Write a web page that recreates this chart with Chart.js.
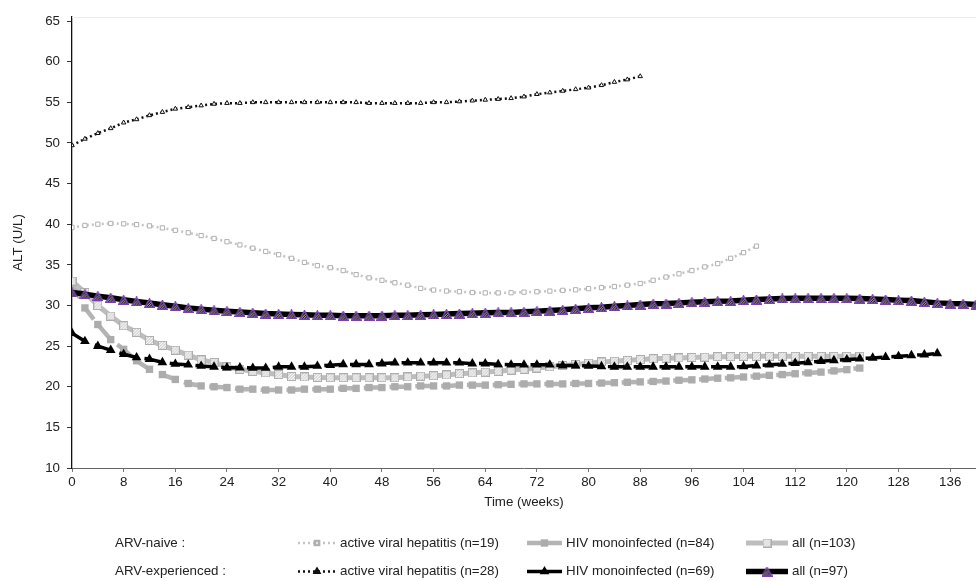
<!DOCTYPE html>
<html>
<head>
<meta charset="utf-8">
<script src="https://cdn.jsdelivr.net/npm/chart.js@4/dist/chart.umd.min.js"></script>
<style>
  html, body { margin: 0; padding: 0; background: #fff; }
  #wrap { width: 976px; height: 581px; }
</style>
</head>
<body>
<div id="wrap"><canvas id="c" width="976" height="581"></canvas></div>
<script>
// Visit weeks (every 2 weeks)
const WEEKS = [0, 2, 4, 6, 8, 10, 12, 14, 16, 18, 20, 22, 24, 26, 28, 30, 32, 34, 36, 38,
  40, 42, 44, 46, 48, 50, 52, 54, 56, 58, 60, 62, 64, 66, 68, 70, 72, 74, 76, 78,
  80, 82, 84, 86, 88, 90, 92, 94, 96, 98, 100, 102, 104, 106, 108, 110, 112, 114, 116, 118,
  120, 122, 124, 126, 128, 130, 132, 134, 136, 138, 140];

// Mean ALT (U/L), ARV-naive patients
const naiveHepatitis = [39.6, 39.85, 40.0, 40.1, 40.05, 39.95, 39.8, 39.55, 39.25, 38.95,
  38.6, 38.25, 37.85, 37.45, 37.05, 36.65, 36.25, 35.8, 35.3, 34.9,
  34.65, 34.3, 33.8, 33.4, 33.1, 32.8, 32.5, 32.1, 31.9, 31.78,
  31.7, 31.6, 31.55, 31.55, 31.57, 31.64, 31.69, 31.77, 31.86, 31.93,
  32.07, 32.2, 32.33, 32.5, 32.7, 33.1, 33.5, 33.9, 34.3, 34.75,
  35.15, 35.8, 36.5, 37.3];
const naiveMono = [32.8, 29.7, 27.66, 25.8, 24.6, 23.2, 22.15, 21.5, 20.9, 20.4,
  20.1, 20.0, 19.9, 19.7, 19.7, 19.6, 19.6, 19.6, 19.7, 19.7,
  19.7, 19.8, 19.8, 19.9, 19.9, 20.0, 20.0, 20.1, 20.1, 20.1,
  20.2, 20.2, 20.2, 20.25, 20.3, 20.35, 20.35, 20.35, 20.35, 20.4,
  20.4, 20.45, 20.5, 20.55, 20.6, 20.65, 20.7, 20.8, 20.85, 20.95,
  21.05, 21.1, 21.2, 21.3, 21.4, 21.5, 21.6, 21.7, 21.8, 21.95,
  22.1, 22.3];
const naiveAll = [33.0, 31.6, 30.0, 28.7, 27.5, 26.7, 25.7, 25.1, 24.5, 23.9,
  23.3, 23.0, 22.45, 22.15, 21.9, 21.7, 21.5, 21.25, 21.2, 21.15,
  21.1, 21.1, 21.1, 21.1, 21.1, 21.1, 21.2, 21.3, 21.35, 21.45,
  21.6, 21.7, 21.8, 21.9, 22.05, 22.15, 22.3, 22.45, 22.6, 22.75,
  22.9, 23.05, 23.15, 23.25, 23.35, 23.45, 23.5, 23.55, 23.6, 23.65,
  23.7, 23.7, 23.75, 23.75, 23.75, 23.75, 23.75, 23.75, 23.75, 23.75,
  23.75, 23.75];

// Mean ALT (U/L), ARV-experienced patients
const expHepatitis = [49.7, 50.5, 51.2, 51.8, 52.5, 52.9, 53.4, 53.8, 54.2, 54.4,
  54.6, 54.8, 54.9, 54.9, 55.0, 55.0, 55.0, 55.0, 55.0, 55.0,
  55.0, 55.0, 55.0, 54.9, 54.9, 54.9, 54.9, 54.9, 55.0, 55.0,
  55.1, 55.2, 55.3, 55.4, 55.5, 55.7, 56.0, 56.2, 56.4, 56.6,
  56.8, 57.1, 57.5, 57.8, 58.2];
const expMono = [26.6, 25.6, 25.0, 24.5, 24.0, 23.6, 23.4, 23.0, 22.8, 22.7,
  22.55, 22.45, 22.35, 22.35, 22.3, 22.3, 22.45, 22.45, 22.45, 22.55,
  22.65, 22.75, 22.75, 22.75, 22.85, 22.95, 22.95, 22.95, 22.95, 22.95,
  22.95, 22.85, 22.85, 22.75, 22.7, 22.7, 22.7, 22.7, 22.6, 22.6,
  22.55, 22.5, 22.45, 22.45, 22.45, 22.45, 22.45, 22.45, 22.45, 22.45,
  22.45, 22.45, 22.5, 22.6, 22.7, 22.8, 22.9, 23.0, 23.15, 23.25,
  23.35, 23.45, 23.55, 23.65, 23.75, 23.85, 23.95, 24.1];
const expAll = [31.6, 31.4, 31.15, 30.95, 30.7, 30.5, 30.3, 30.1, 29.9, 29.7,
  29.55, 29.4, 29.3, 29.2, 29.1, 29.0, 28.95, 28.9, 28.85, 28.8,
  28.8, 28.75, 28.75, 28.75, 28.75, 28.8, 28.8, 28.85, 28.9, 28.95,
  29.0, 29.05, 29.1, 29.15, 29.15, 29.22, 29.3, 29.38, 29.46, 29.59,
  29.71, 29.79, 29.91, 30.0, 30.12, 30.2, 30.24, 30.32, 30.4, 30.45,
  30.53, 30.55, 30.65, 30.73, 30.81, 30.86, 30.88, 30.9, 30.9, 30.9,
  30.88, 30.85, 30.8, 30.73, 30.65, 30.6, 30.45, 30.32, 30.24, 30.2,
  30.12];

const GROUP_LABELS = ['ARV-naive :', 'ARV-experienced :'];
const SERIES_LABELS = [
  ['active viral hepatitis (n=19)', 'HIV monoinfected (n=84)', 'all (n=103)'],
  ['active viral hepatitis (n=28)', 'HIV monoinfected (n=69)', 'all (n=97)']
];
const X_TITLE = 'Time (weeks)';
const Y_TITLE = 'ALT (U/L)';

const FONT = '"Liberation Sans", Arial, Helvetica, sans-serif';
const FONT_SIZE = 13.33;
const TEXT = '#222';

const toPoints = vals => vals.map((v, i) => ({ x: WEEKS[i], y: v }));

// Hatched marker glyphs
function hatchedSquare() {
  const s = 9, c = document.createElement('canvas');
  c.width = s; c.height = s;
  const g = c.getContext('2d');
  g.fillStyle = '#c4c4c4';
  g.fillRect(0, 0, s, s);
  g.strokeStyle = '#ffffff';
  g.lineWidth = 1.2;
  for (let k = -s; k < 2 * s; k += 3) {
    g.beginPath(); g.moveTo(k, s); g.lineTo(k + s, 0); g.stroke();
  }
  g.strokeStyle = '#adadad'; g.lineWidth = 1;
  g.strokeRect(0.5, 0.5, s - 1, s - 1);
  return c;
}
function hatchedTriangle() {
  const w = 11, h = 10, c = document.createElement('canvas');
  c.width = w; c.height = h;
  const g = c.getContext('2d');
  const path = () => {
    g.beginPath();
    g.moveTo(w / 2, 0.8); g.lineTo(w - 0.8, h - 0.8); g.lineTo(0.8, h - 0.8); g.closePath();
  };
  path();
  g.save(); g.clip();
  g.fillStyle = '#ffffff'; g.fillRect(0, 0, w, h);
  g.strokeStyle = '#000000'; g.lineWidth = 1.2;
  for (let k = -w; k < 2 * w; k += 2.6) {
    g.beginPath(); g.moveTo(k, h); g.lineTo(k + h, 0); g.stroke();
  }
  g.restore();
  g.strokeStyle = '#7a3fb0'; g.lineWidth = 1.4;
  path(); g.stroke();
  return c;
}
const SQ_HATCH = hatchedSquare();
const TRI_HATCH = hatchedTriangle();

const datasets = [
  { label: SERIES_LABELS[0][0], data: toPoints(naiveHepatitis), order: 5,
    borderColor: '#c4c4c4', borderWidth: 2.5, borderDash: [2, 3],
    pointStyle: 'rect', pointRadius: 3, pointBorderWidth: 1,
    pointBorderColor: '#b0b0b0', pointBackgroundColor: '#ffffff' },
  { label: SERIES_LABELS[0][1], data: toPoints(naiveMono), order: 4,
    borderColor: '#b4b4b4', borderWidth: 4.5, borderDash: [17, 8.8],
    pointStyle: 'rect', pointRadius: 5.2, pointBorderWidth: 0,
    pointBorderColor: '#acacac', pointBackgroundColor: '#acacac' },
  { label: SERIES_LABELS[0][2], data: toPoints(naiveAll), order: 3,
    borderColor: '#bdbdbd', borderWidth: 5,
    pointStyle: SQ_HATCH, pointRadius: 5 },
  { label: SERIES_LABELS[1][0], data: toPoints(expHepatitis), order: 2,
    borderColor: '#111111', borderWidth: 2.5, borderDash: [2, 3],
    pointStyle: 'triangle', pointRadius: 2.6, pointBorderWidth: 1,
    pointBorderColor: '#111111', pointBackgroundColor: '#ffffff' },
  { label: SERIES_LABELS[1][1], data: toPoints(expMono), order: 1,
    borderColor: '#000000', borderWidth: 3.5, borderDash: [17, 8.8],
    pointStyle: 'triangle', pointRadius: 5.6, pointBorderWidth: 0,
    pointBorderColor: '#000000', pointBackgroundColor: '#000000' },
  { label: SERIES_LABELS[1][2], data: toPoints(expAll), order: 0,
    borderColor: '#000000', borderWidth: 5.5,
    pointStyle: TRI_HATCH, pointRadius: 6 }
];
datasets.forEach(d => {
  d.fill = false; d.tension = 0; d.borderCapStyle = 'butt';
  d.borderJoinStyle = 'round'; d.pointHoverRadius = d.pointRadius;
});

// Faint frame line along the top of the plot
const frameTop = {
  id: 'frameTop',
  beforeDatasetsDraw(chart) {
    const { ctx, chartArea: a } = chart;
    ctx.save();
    ctx.strokeStyle = '#ececec';
    ctx.lineWidth = 1;
    ctx.beginPath(); ctx.moveTo(a.left, a.top + 0.5); ctx.lineTo(a.right, a.top + 0.5); ctx.stroke();
    ctx.restore();
  }
};

// Two-row legend drawn under the axes
const legendPlugin = {
  id: 'groupLegend',
  afterDraw(chart) {
    const ctx = chart.ctx;
    const rows = [543, 571.5];
    const cols = [
      { x1: 298, x2: 336, tx: 340 },
      { x1: 527, x2: 562, tx: 566 },
      { x1: 746, x2: 788, tx: 792 }
    ];
    ctx.save();
    ctx.font = FONT_SIZE + 'px ' + FONT;
    ctx.textBaseline = 'middle';
    rows.forEach((y, r) => {
      ctx.fillStyle = TEXT;
      ctx.fillText(GROUP_LABELS[r], 115, y);
      cols.forEach((c, k) => {
        const ds = chart.data.datasets[r * 3 + k];
        const dotted = ds.borderDash && ds.borderDash[0] < 5;
        ctx.save();
        ctx.strokeStyle = ds.borderColor;
        ctx.lineWidth = ds.borderWidth;
        ctx.lineCap = 'butt';
        ctx.setLineDash(dotted ? ds.borderDash : []);
        ctx.beginPath(); ctx.moveTo(c.x1, y); ctx.lineTo(c.x2, y); ctx.stroke();
        ctx.setLineDash([]);
        ctx.fillStyle = ds.pointBackgroundColor || '#000';
        ctx.strokeStyle = ds.pointBorderColor || '#000';
        Chart.helpers.drawPoint(ctx, {
          pointStyle: ds.pointStyle, radius: ds.pointRadius,
          rotation: 0, borderWidth: ds.pointBorderWidth || 0
        }, (c.x1 + c.x2) / 2, y);
        ctx.restore();
        ctx.fillStyle = TEXT;
        ctx.fillText(ds.label, c.tx, y);
      });
    });
    ctx.restore();
  }
};

new Chart(document.getElementById('c'), {
  type: 'line',
  data: { datasets },
  plugins: [frameTop, legendPlugin],
  options: {
    responsive: false,
    devicePixelRatio: 1,
    animation: false,
    layout: { autoPadding: false, padding: { left: 0, right: 0, top: 17, bottom: 71 } },
    plugins: { legend: { display: false }, tooltip: { enabled: false } },
    scales: {
      x: {
        type: 'linear', min: 0, max: 140,
        ticks: { stepSize: 8, includeBounds: false, color: TEXT, padding: 2,
                 maxRotation: 0, font: { family: FONT, size: FONT_SIZE } },
        grid: { drawOnChartArea: false, tickLength: 4, color: '#777' },
        border: { color: '#666', width: 1 },
        title: { display: true, text: X_TITLE, color: TEXT,
                 font: { family: FONT, size: FONT_SIZE }, padding: { top: 0, bottom: 0 } },
        afterFit(s) { s.height = 42; s.paddingRight = 0; s.paddingLeft = 0; }
      },
      y: {
        min: 10, max: 65.5,
        ticks: { stepSize: 5, includeBounds: false, color: TEXT, padding: 7,
                 font: { family: FONT, size: FONT_SIZE } },
        grid: { drawOnChartArea: false, tickLength: 5, color: '#333' },
        border: { color: '#111', width: 1.3 },
        title: { display: true, text: Y_TITLE, color: TEXT,
                 font: { family: FONT, size: FONT_SIZE }, padding: { top: 10, bottom: 0 } },
        afterFit(s) { s.width = 72; s.paddingTop = 0; s.paddingBottom = 0; }
      }
    }
  }
});
</script>
</body>
</html>
